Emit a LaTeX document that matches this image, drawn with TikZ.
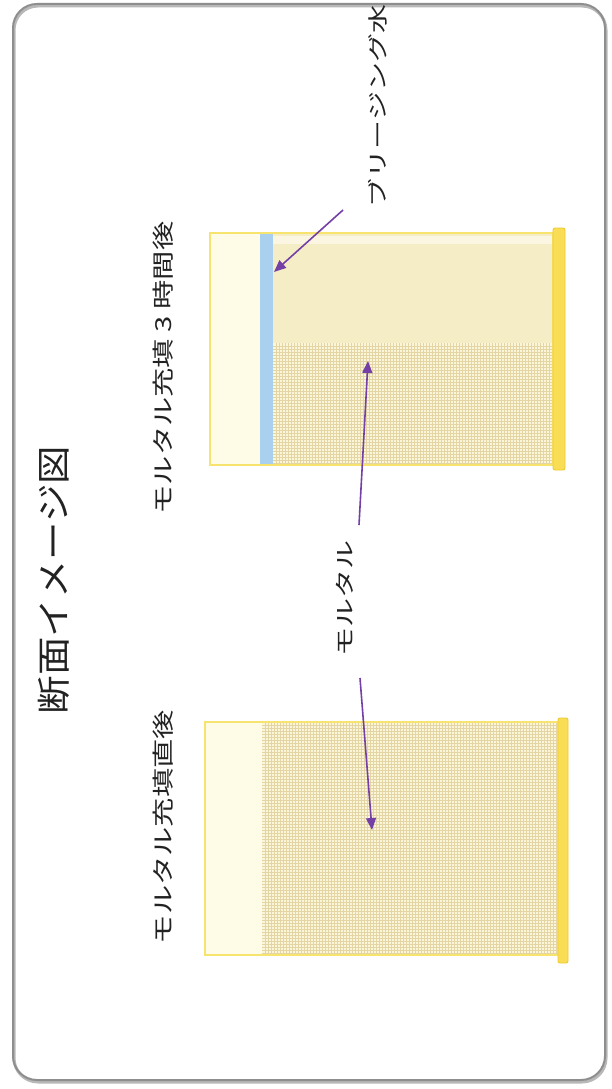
\documentclass[tikz,border=0pt]{standalone}
\usepackage{fontspec}
\newfontfamily\jp{Noto Sans CJK JP}
\usetikzlibrary{arrows.meta}
\definecolor{framegray}{HTML}{8E8E8E}
\definecolor{shadowgray}{HTML}{B8B8B8}
\definecolor{boxline}{HTML}{F6E46E}
\definecolor{palefill}{HTML}{FEFCE6}
\definecolor{tanfill}{HTML}{F5EDC6}
\definecolor{gridfill}{HTML}{FBF5DA}
\definecolor{gridline}{HTML}{E3D6A4}
\definecolor{bluestrip}{HTML}{A9D1EF}
\definecolor{barfill}{HTML}{F9DE55}
\definecolor{barline}{HTML}{EFC935}
\definecolor{arrowpurple}{HTML}{7440A6}
\definecolor{textcol}{HTML}{222222}
\begin{document}
\begin{tikzpicture}[x=1pt,y=-1pt,
  lbl/.style={rotate=90,inner sep=0pt,text=textcol},
  outline/.style={draw=boxline,line width=1.3pt},
  gline/.style={draw=gridline,line width=0.45pt},
  bar/.style={fill=barfill,draw=barline,line width=0.9pt,rounded corners=2pt},
  callout/.style={draw=arrowpurple,line width=1.6pt,-{Triangle[length=12pt,width=10pt]}}]
\useasboundingbox (0,0) rectangle (612,1089);
\fill[white] (0,0) rectangle (612,1089);
\begin{scope}
\clip (0,0) rectangle (612,1089);
% frame
\draw[shadowgray,line width=3pt,rounded corners=24pt] (14,6) rectangle (606,1082);
\draw[framegray,line width=2pt,rounded corners=24pt] (13,4) rectangle (605,1080);

% ---- top box (3 hours after) ----
\fill[palefill] (210,233) rectangle (260,465);
\fill[bluestrip] (260,233) rectangle (273,465);
\fill[tanfill] (273,233) rectangle (553,343);
\fill[white,opacity=0.5] (273,236) rectangle (553,244);
\fill[gridfill] (273,343) rectangle (553,465);
\foreach \x in {276,279,...,552} \draw[gline] (\x,343) -- (\x,465);
\foreach \y in {346,349,...,464} \draw[gline] (273,\y) -- (553,\y);
\draw[outline] (210,233) rectangle (553,465);
\draw[bar] (553,228) rectangle (565,470);

% ---- bottom box (just after) ----
\fill[palefill] (205,722) rectangle (262,955);
\fill[gridfill] (262,722) rectangle (558,955);
\foreach \x in {265,268,...,557} \draw[gline] (\x,722) -- (\x,955);
\foreach \y in {725,728,...,954} \draw[gline] (262,\y) -- (558,\y);
\draw[outline] (205,722) rectangle (558,955);
\draw[bar] (558,718) rectangle (568,963);

% ---- texts ----
\node[lbl] (title) at (54,580) {\jp\fontsize{34}{34}\selectfont\scalebox{1.13}[1]{断面イメージ図}};
\node[lbl] (lblA) at (163,368) {\jp\fontsize{22}{22}\selectfont\scalebox{1.33}[1]{モルタル充填 3 時間後}};
\node[lbl] (lblB) at (163,827) {\jp\fontsize{22}{22}\selectfont\scalebox{1.33}[1]{モルタル充填直後}};
\node[lbl] (mortar) at (345,598) {\jp\fontsize{20}{20}\selectfont\scalebox{1.45}[1]{モルタル}};
\node[lbl] (bleed) at (378,106) {\jp\fontsize{20}{20}\selectfont\scalebox{1.45}[1]{ブリージング水}};

% ---- callout arrows ----
\coordinate (bleedS) at (343,210);
\coordinate (bleedE) at (274,272);
\coordinate (mUpS) at (359,525);
\coordinate (mUpE) at (368,361);
\coordinate (mDnS) at (360,678);
\coordinate (mDnE) at (372,830);
\draw[callout] (bleedS) -- (bleedE);
\draw[callout] (mUpS) -- (mUpE);
\draw[callout] (mDnS) -- (mDnE);
\end{scope}
\end{tikzpicture}
\end{document}
